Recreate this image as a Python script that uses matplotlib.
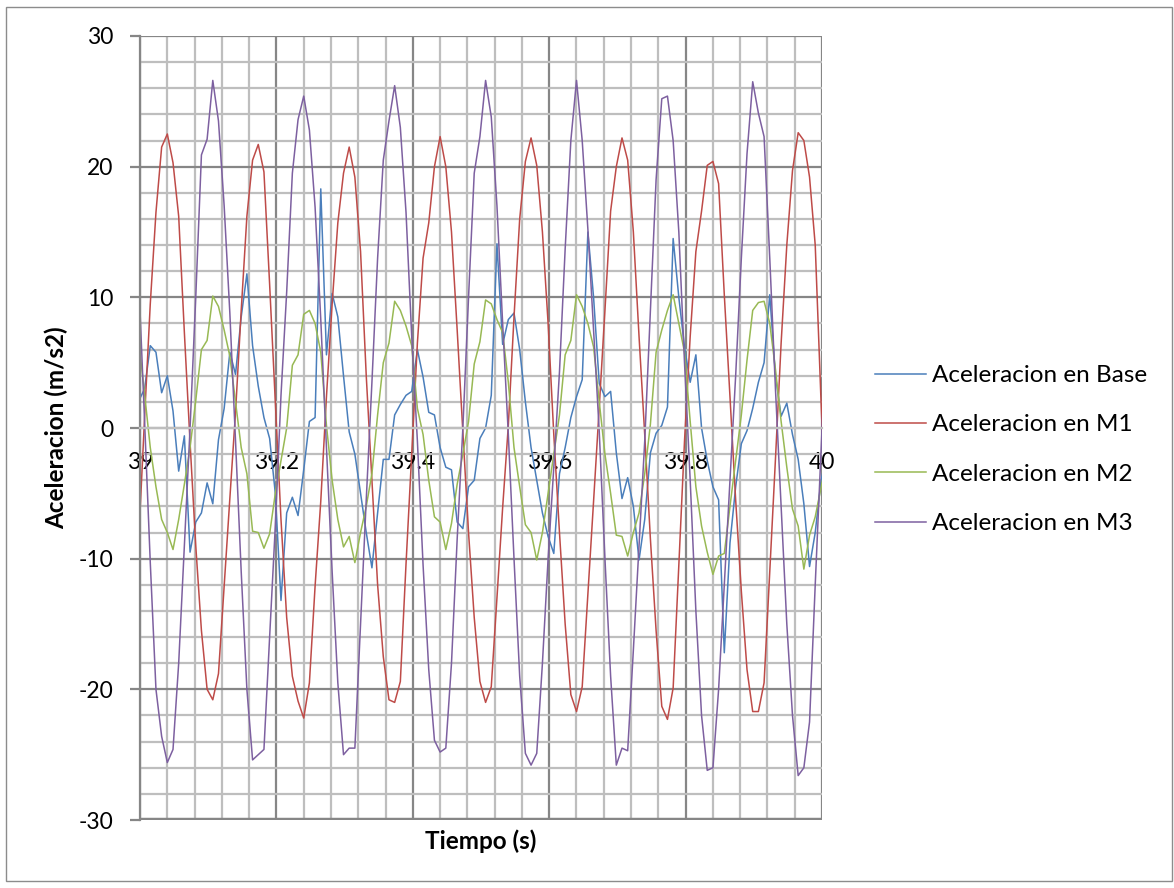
import numpy as np
import matplotlib
matplotlib.use("Agg")
import matplotlib.pyplot as plt
from matplotlib.patches import Rectangle

plt.rcParams['font.family'] = ['Lato', 'DejaVu Sans']
plt.rcParams['axes.unicode_minus'] = False

# samples every 1/120 s
t0 = 38.9984
n = 122
tiempo = t0 + np.arange(n) / 120.0

base = [2.1, 3.0, 6.3, 5.8, 2.7, 4.0, 1.3, -3.3, -0.6, -9.5,
        -7.2, -6.5, -4.2, -5.8, -0.9, 1.5, 5.8, 4.1, 8.5, 11.8,
        6.3, 3.2, 0.8, -0.8, -5.0, -13.2, -6.5, -5.3, -6.7, -3.2,
        0.5, 0.8, 18.3, 5.6, 10.3, 8.5, 4.0, -0.3, -2.0, -5.0,
        -8.0, -10.7, -6.5, -2.4, -2.4, 1.0, 1.8, 2.5, 2.8, 6.0,
        3.9, 1.2, 1.0, -1.5, -3.0, -3.2, -7.2, -7.7, -4.5, -4.0,
        -0.8, 0.0, 2.5, 14.1, 6.4, 8.3, 8.8, 6.0, 2.0, -1.5,
        -4.0, -6.5, -8.3, -9.6, -3.5, -1.5, 0.8, 2.4, 3.7, 15.0,
        10.0, 3.4, 2.4, 2.8, -1.9, -5.4, -3.8, -6.0, -10.1, -7.0,
        -1.9, -0.4, 0.2, 1.6, 14.5, 10.0, 6.2, 3.5, 5.6, 0.0,
        -2.5, -4.5, -5.5, -17.2, -8.8, -4.5, -1.2, -0.2, 1.5, 3.5,
        5.0, 10.2, 4.0, 0.9, 1.9, -0.5, -2.4, -5.8, -10.6, -8.0,
        -4.1, -2.0]

m1 = [-8.2, 0.8, 9.5, 16.5, 21.5, 22.5, 20.3, 16.2, 7.3, -1.1,
      -9.0, -15.5, -20.0, -20.8, -18.8, -12.1, -5.4, 1.2, 9.0, 16.2,
      20.5, 21.7, 19.6, 11.0, 2.0, -7.0, -14.5, -19.0, -20.9, -22.2,
      -19.5, -12.1, -5.6, 2.4, 9.5, 15.7, 19.5, 21.5, 19.2, 13.5,
      4.0, -4.0, -12.0, -17.5, -20.8, -21.0, -19.4, -10.4, -2.0, 6.5,
      13.0, 15.7, 20.0, 22.3, 20.0, 15.0, 7.5, -0.3, -8.0, -14.5,
      -19.4, -21.0, -19.8, -13.0, -6.1, 0.2, 8.5, 16.0, 20.4, 22.2,
      20.1, 15.0, 8.0, -0.5, -8.0, -15.0, -20.4, -21.7, -19.8, -12.7,
      -5.6, 1.6, 9.0, 16.6, 20.0, 22.2, 20.5, 15.0, 7.0, -0.5,
      -8.5, -15.5, -21.3, -22.3, -19.9, -10.5, -1.0, 7.0, 13.5, 16.6,
      20.1, 20.4, 18.7, 10.2, 2.4, -5.5, -12.5, -18.5, -21.7, -21.7,
      -19.5, -11.0, -2.4, 6.5, 14.0, 19.7, 22.6, 22.0, 19.2, 14.0,
      2.3, -9.0]

m2 = [6.5, 2.6, -1.5, -4.5, -7.0, -8.0, -9.3, -7.0, -4.3, -1.5,
      2.1, 6.0, 6.7, 10.1, 9.3, 7.5, 5.5, 2.0, -1.5, -3.5,
      -7.9, -8.0, -9.2, -8.1, -5.0, -2.5, 0.0, 4.8, 5.6, 8.7,
      9.0, 8.0, 5.8, 0.2, -4.0, -7.0, -9.1, -8.3, -10.3, -8.0,
      -6.0, -3.5, 1.0, 5.0, 6.5, 9.7, 9.0, 7.8, 6.3, 1.5,
      -0.5, -4.0, -6.8, -7.2, -9.3, -7.3, -4.3, -2.0, 0.5, 4.9,
      6.6, 9.8, 9.5, 8.3, 7.3, 3.5, -1.5, -4.5, -7.4, -8.0,
      -10.1, -8.0, -5.0, -2.0, 1.0, 5.6, 6.7, 10.2, 9.3, 8.0,
      6.2, 2.0, -2.0, -5.0, -8.2, -8.3, -9.8, -8.0, -6.5, -3.5,
      0.3, 5.8, 7.5, 9.0, 10.2, 8.0, 5.8, 0.5, -4.5, -7.5,
      -9.5, -11.2, -9.8, -9.6, -6.0, -2.5, 1.0, 5.2, 9.0, 9.6,
      9.7, 8.0, 4.5, 0.5, -3.0, -6.2, -7.5, -10.8, -8.2, -6.8,
      -4.6, -2.5]

m3 = [11.0, 0.5, -10.3, -20.0, -23.6, -25.6, -24.6, -18.0, -9.0, 0.0,
      10.0, 20.9, 22.1, 26.6, 23.5, 17.0, 8.8, -1.0, -11.0, -20.0,
      -25.4, -25.0, -24.6, -16.0, -7.5, 2.5, 10.4, 19.5, 23.6, 25.4,
      22.8, 16.9, 8.3, -1.5, -11.0, -19.5, -25.0, -24.5, -24.5, -15.0,
      -5.5, 3.5, 13.0, 20.5, 23.5, 26.2, 23.0, 16.5, 7.0, -1.0,
      -10.5, -18.5, -23.9, -24.8, -24.5, -18.0, -8.5, 0.0, 10.0, 19.5,
      22.3, 26.6, 23.8, 17.0, 8.0, -0.5, -10.0, -19.0, -24.9, -25.8,
      -24.9, -18.0, -10.0, -3.0, 4.3, 13.7, 22.0, 26.6, 22.0, 15.2,
      7.5, -0.3, -10.0, -19.0, -25.8, -24.5, -24.7, -17.0, -9.0, -1.0,
      9.0, 19.0, 25.2, 25.4, 22.0, 15.0, 5.0, -4.0, -14.0, -22.0,
      -26.2, -26.0, -20.0, -12.0, -4.0, 4.0, 13.0, 21.0, 26.5, 24.1,
      22.3, 13.0, 3.0, -6.0, -15.0, -22.0, -26.6, -26.0, -22.5, -12.0,
      -2.0, 8.0]

series = [
    ('Aceleracion en Base', base, '#4A7EBB'),
    ('Aceleracion en M1', m1, '#BE4B48'),
    ('Aceleracion en M2', m2, '#98B954'),
    ('Aceleracion en M3', m3, '#7D60A0'),
]

W, H = 1174, 888
fig = plt.figure(figsize=(W / 100, H / 100), dpi=100)
fig.patches.append(Rectangle((6 / W, 7 / H), 1166 / W, 874 / H, transform=fig.transFigure,
                             fill=False, edgecolor='#8c8c8c', lw=1.0))

ax = fig.add_axes([140 / W, 1 - 820 / H, 682 / W, 784 / H])
ax.set_xlim(39, 40)
ax.set_ylim(-30, 30)

ax.set_xticks(np.arange(39, 40.001, 0.2))
ax.set_xticks(np.arange(39, 40.001, 0.04), minor=True)
ax.set_xticklabels(['39', '39.2', '39.4', '39.6', '39.8', '40'])
ax.set_yticks(np.arange(-30, 31, 10))
ax.set_yticks(np.arange(-30, 31, 2), minor=True)

ax.grid(which='minor', color='#BEBEBE', lw=1.6)
ax.grid(which='major', color='#868686', lw=1.6)
ax.set_axisbelow(True)

for s in ['top', 'right']:
    ax.spines[s].set_visible(False)
ax.spines['left'].set_color('#868686')
ax.spines['left'].set_linewidth(1.6)
ax.spines['bottom'].set_position(('data', 0))
ax.spines['bottom'].set_color('#BEBEBE')
ax.spines['bottom'].set_linewidth(1.6)
ax.axhline(-30, color='#868686', lw=3.2, zorder=1)

ax.tick_params(axis='y', which='major', length=7, width=1.6, color='#868686',
               pad=12, labelsize=16.5)
ax.tick_params(axis='y', which='minor', length=0)
ax.tick_params(axis='x', which='both', length=0, pad=17, labelsize=16.5)

for label, vals, color in series:
    ax.plot(tiempo, vals, color=color, lw=1.1, label=label)

fig.text(56 / W, 1 - 428 / H, 'Aceleracion (m/s2)', rotation=90, ha='center', va='center',
         fontsize=17.5, fontweight='bold')
fig.text(481 / W, 1 - 841 / H, 'Tiempo (s)', ha='center', va='center',
         fontsize=17.5, fontweight='bold')

fig.legend(loc='upper left', bbox_to_anchor=(875 / W, 1 - 365 / H), frameon=False,
           fontsize=17.5, handlelength=2.1, handletextpad=0.25, labelspacing=1.17,
           borderpad=0, borderaxespad=0)

fig.savefig('out.png', dpi=100)
